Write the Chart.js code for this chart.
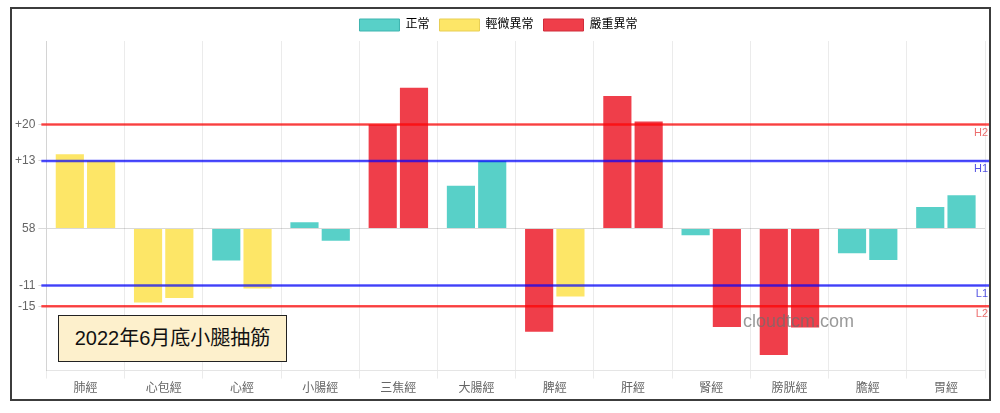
<!DOCTYPE html>
<html>
<head>
<meta charset="utf-8">
<script src="https://cdn.jsdelivr.net/npm/chart.js@4"></script>
<style>
  body { margin: 0; background: #fff; }
  #frame {
    position: absolute; left: 10px; top: 7px; width: 981px; height: 394px;
    box-sizing: border-box; border: 2px solid #3c3c3c; background: #fff;
  }
  #myChart { display: block; }
  #note {
    position: absolute; left: 58px; top: 315px; width: 229px; height: 47px;
    box-sizing: border-box; border: 1.5px solid #222; background: #fdf0cc;
    font: 20px "Liberation Sans", "Noto Sans CJK TC", sans-serif; color: #111;
    line-height: 44px; text-align: center;
  }
  #mark {
    position: absolute; left: 743px; top: 311px;
    font: 18px "Liberation Sans", sans-serif; color: rgba(110,110,110,0.7);
  }
</style>
</head>
<body>
<div id="frame"><canvas id="myChart" width="977" height="390"></canvas></div>
<div id="note">2022年6月底小腿抽筋</div>
<div id="mark">cloudtcm.com</div>
<script>
var meridians = ["肺經", "心包經", "心經", "小腸經", "三焦經", "大腸經", "脾經", "肝經", "腎經", "膀胱經", "膽經", "胃經"];
var leftValues = [14.3, -14.3, -6.2, 1.2, 20, 8.2, -19.9, 25.5, -1.3, -24.4, -4.8, 4.1];
var rightValues = [13, -13.4, -11.6, -2.4, 27.1, 13, -13.1, 20.6, -19, -19.1, -6.1, 6.4];
// 0 = 正常, 1 = 輕微異常, 2 = 嚴重異常
var leftLevel = [1, 1, 0, 0, 2, 0, 2, 2, 0, 2, 0, 0];
var rightLevel = [1, 1, 1, 0, 2, 0, 1, 2, 2, 2, 0, 0];
var levelNames = ["正常", "輕微異常", "嚴重異常"];

var tickValues = [20, 13, 0, -11, -15];
var tickLabels = ["+20", "+13", "58", "-11", "-15"];

var refValues = [20, 13, -11, -15];
var refNames = ["H2", "H1", "L1", "L2"];

var levelColors = ["#58d0c8", "#fde667", "#ef3e4a"];
var levelBorders = ["#3fb5b0", "#e8cf55", "#d02c3a"];
var refColors = ["rgba(255,0,0,0.7)", "rgba(0,0,255,0.7)", "rgba(0,0,255,0.7)", "rgba(255,0,0,0.7)"];
var refTextColors = ["rgba(230,60,60,0.75)", "rgba(40,40,220,0.8)", "rgba(40,40,220,0.8)", "rgba(230,60,60,0.75)"];

function colorsFor(levels) {
    return levels.map(function (l) { return levelColors[l]; });
}

var refLines = {
    id: "refLines",
    afterDatasetsDraw: function (chart) {
        var c = chart.ctx, y = chart.scales.y, area = chart.chartArea;
        c.save();
        refValues.forEach(function (v, i) {
            var py = y.getPixelForValue(v);
            c.strokeStyle = refColors[i];
            c.lineWidth = 2.5;
            c.beginPath();
            c.moveTo(area.left - 5, py);
            c.lineTo(chart.width, py);
            c.stroke();
            c.fillStyle = refTextColors[i];
            c.font = "11px 'Liberation Sans', sans-serif";
            c.textAlign = "right";
            c.textBaseline = "middle";
            c.fillText(refNames[i], chart.width - 1, py + 8);
        });
        c.restore();
    }
};

Chart.defaults.font.family = "'Liberation Sans', 'Noto Sans CJK TC', sans-serif";
Chart.defaults.font.size = 12;
Chart.defaults.color = "#666";

var ctx = document.getElementById("myChart");
var myChart = new Chart(ctx, {
    type: 'bar',
    data: {
        labels: meridians,
        datasets: [
            { data: leftValues, backgroundColor: colorsFor(leftLevel) },
            { data: rightValues, backgroundColor: colorsFor(rightLevel) }
        ]
    },
    plugins: [refLines],
    options: {
        responsive: false,
        animation: false,
        layout: { padding: { left: 0, right: 4 } },
        plugins: {
            tooltip: { enabled: false },
            legend: {
                labels: {
                    boxWidth: 40,
                    boxHeight: 12,
                    generateLabels: function () {
                        return levelNames.map(function (n, i) {
                            return { text: n, fillStyle: levelColors[i], strokeStyle: levelBorders[i], lineWidth: 1, datasetIndex: i };
                        });
                    }
                },
                onClick: function () {}
            }
        },
        scales: {
            x: {
                grid: { offset: true, color: "rgba(0,0,0,0.08)" }
            },
            y: {
                min: -27.4,
                max: 36.1,
                afterBuildTicks: function (axis) {
                    axis.ticks = tickValues.map(function (v) { return { value: v }; });
                },
                ticks: {
                    autoSkip: false,
                    callback: function (v) { return tickLabels[tickValues.indexOf(v)]; }
                },
                grid: { color: "rgba(0,0,0,0.15)" }
            }
        }
    }
});
</script>
</body>
</html>
